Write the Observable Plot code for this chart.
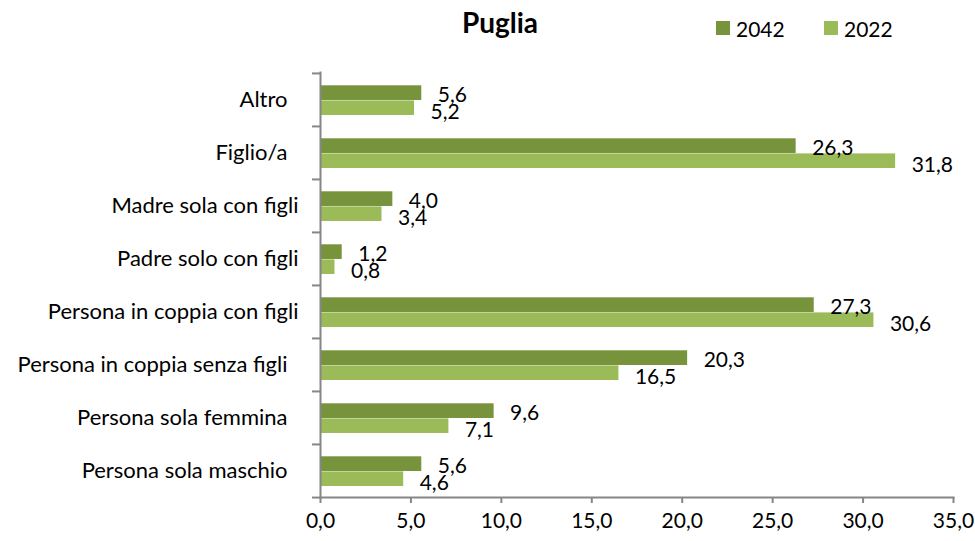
<!DOCTYPE html>
<html>
<head>
<meta charset="utf-8">
<script src="https://cdn.jsdelivr.net/npm/d3@7"></script>
<script src="https://cdn.jsdelivr.net/npm/@observablehq/plot@0.6"></script>
<style>
  html, body { margin: 0; padding: 0; background: #fff; }
  #wrap { position: relative; width: 975px; height: 541px; font-family: Lato, sans-serif; color: #000; }
  #header { position: relative; width: 975px; height: 60px; }
  #title { position: absolute; left: 500px; top: 22px; transform: translate(-50%, -50%); font-weight: bold; font-size: 28px; white-space: nowrap; }
  .sw { position: absolute; width: 14px; height: 14px; top: 21px; }
  .lt { position: absolute; top: 28px; transform: translateY(-50%); font-size: 21px; }
  #chart svg { display: block; }
  #chart svg text { white-space: pre; }
</style>
</head>
<body>
<div id="wrap">
  <div id="header">
    <div id="title"></div>
    <div id="legend"></div>
  </div>
  <div id="chart"></div>
</div>
<script>
// ---- data ----
const chartTitle = "Puglia";
const categories = [
  "Altro ",
  "Figlio/a ",
  "Madre sola con figli",
  "Padre solo con figli",
  "Persona in coppia con figli",
  "Persona in coppia senza figli ",
  "Persona sola femmina ",
  "Persona sola maschio "
];
const seriesNames = ["2042", "2022"];
const values2042 = [5.6, 26.3, 4.0, 1.2, 27.3, 20.3, 9.6, 5.6];
const values2022 = [5.2, 31.8, 3.4, 0.8, 30.6, 16.5, 7.1, 4.6];
const xTicks = [0, 5, 10, 15, 20, 25, 30, 35];

// ---- styles ----
const colors = {"2042": "#77933C", "2022": "#9BBB59"};
const axisGray = "#868686";
const fmt = d => d.toFixed(1).replace(".", ",");
// keep the trailing blank of some category labels visible
const catFmt = d => d.replace(/ $/, "\u2002");

const rows2042 = categories.map((c, i) => ({category: c, series: "2042", value: values2042[i]}));
const rows2022 = categories.map((c, i) => ({category: c, series: "2022", value: values2022[i]}));

// header: title + legend
document.getElementById("title").textContent = chartTitle;
const legend = document.getElementById("legend");
const legendX = {"2042": 716, "2022": 824};
for (const s of seriesNames) {
  const sw = document.createElement("div");
  sw.className = "sw";
  sw.style.left = legendX[s] + "px";
  sw.style.background = colors[s];
  legend.appendChild(sw);
  const t = document.createElement("div");
  t.className = "lt";
  t.style.left = (legendX[s] + 20) + "px";
  t.textContent = s;
  legend.appendChild(t);
}

const H = 481, MT = 12, MB = 44, ML = 320, MR = 22, W = 975;
const bw = (H - MT - MB) / categories.length;
const plotW = W - ML - MR;

const chart = Plot.plot({
  width: W,
  height: H,
  marginTop: MT,
  marginBottom: MB,
  marginLeft: ML,
  marginRight: MR,
  style: {fontFamily: "Lato, sans-serif", fontSize: "21px", color: "#000", background: "#fff", overflow: "visible"},
  x: {domain: [0, 35]},
  y: {domain: categories, padding: 0},
  marks: [
    Plot.barX(rows2042, {x: "value", y: "category", fill: colors["2042"], insetTop: 12.3, insetBottom: bw - 27.1}),
    Plot.barX(rows2022, {x: "value", y: "category", fill: colors["2022"], insetTop: 27.4, insetBottom: bw - 42.1}),
    Plot.text(rows2042, {x: "value", y: "category", text: d => fmt(d.value), textAnchor: "start", dx: 16, dy: -5, fontSize: 21, fill: "#000"}),
    Plot.text(rows2022, {x: "value", y: "category", text: d => fmt(d.value), textAnchor: "start", dx: 16, dy: 12, fontSize: 21, fill: "#000"}),
    Plot.frame({anchor: "left", stroke: axisGray, strokeWidth: 2}),
    Plot.frame({anchor: "bottom", stroke: axisGray, strokeWidth: 2}),
    Plot.tickY(categories, {y: d => d, dy: -bw / 2, dx: -8, insetRight: plotW - 8, stroke: axisGray, strokeWidth: 2}),
    Plot.tickY(categories.slice(-1), {y: d => d, dy: bw / 2, dx: -8, insetRight: plotW - 8, stroke: axisGray, strokeWidth: 2}),
    Plot.axisY({tickSize: 0, tickPadding: 22, fontSize: 22, label: null, fill: "#000", tickFormat: catFmt}),
    Plot.axisX({ticks: xTicks, tickFormat: fmt, tickSize: 6, tickPadding: 10, stroke: axisGray, strokeWidth: 2, fontSize: 21, label: null, fill: "#000"})
  ]
});
document.getElementById("chart").appendChild(chart);
</script>
</body>
</html>
